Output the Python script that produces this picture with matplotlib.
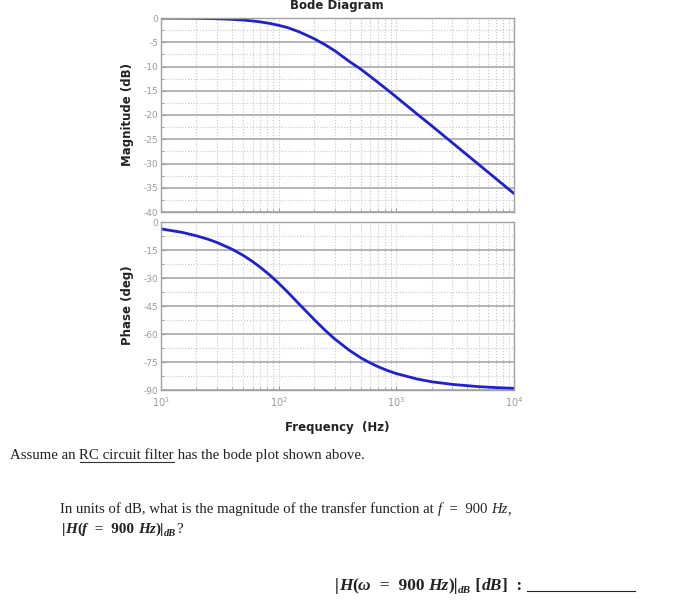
import numpy as np
import matplotlib
matplotlib.use("Agg")
import matplotlib.pyplot as plt
from matplotlib.ticker import FixedLocator, NullFormatter, LogLocator

# Data
freq_hz = [10, 15, 20, 25, 30, 40, 50, 60, 70, 85, 100, 120, 150, 200, 250, 300, 400,
           500, 600, 700, 850, 1000, 1500, 2000, 3000, 5000, 7000, 10000]
magnitude_db = [-0.02, -0.04, -0.07, -0.11, -0.16, -0.28, -0.43, -0.61, -0.81, -1.14,
                -1.51, -2.0, -2.87, -4.26, -5.56, -6.76, -8.98, -10.57, -12.04, -13.30,
                -14.92, -16.30, -19.8, -22.24, -25.75, -30.18, -33.10, -36.20]
phase_deg = [-3.7, -5.5, -7.4, -9.2, -11.0, -14.5, -17.9, -21.2, -24.3, -28.7, -32.8,
             -37.7, -44.1, -52.2, -58.2, -62.7, -68.8, -72.8, -75.5, -77.5, -79.7,
             -81.2, -84.1, -85.6, -87.0, -88.2, -88.7, -89.1]
mag_ticks = [0, -5, -10, -15, -20, -25, -30, -35, -40]
phase_ticks = [0, -15, -30, -45, -60, -75, -90]
x_ticks = [10, 100, 1000, 10000]

W, H = 690, 606
fig = plt.figure(figsize=(W / 100, H / 100), dpi=100)

def fx(px):
    return px / W

def fy(py):
    return 1 - py / H

left, right = 161, 514
ax1 = fig.add_axes([fx(left), fy(212), fx(right - left), fy(18) - fy(212)])
ax2 = fig.add_axes([fx(left), fy(390), fx(right - left), fy(222) - fy(390)])

tick_col = "#9a9a9a"
line_col = "#2020d0"

def style(ax, yt, ylim, minor_step):
    ax.set_xscale("log")
    ax.set_xlim(10, 10000)
    ax.set_ylim(*ylim)
    ax.yaxis.set_major_locator(FixedLocator(yt))
    minors = [v + minor_step / 2 for v in yt[1:]]
    ax.yaxis.set_minor_locator(FixedLocator(minors))
    ax.xaxis.set_major_locator(FixedLocator(x_ticks))
    ax.xaxis.set_minor_locator(LogLocator(base=10, subs=np.arange(2, 10)))
    ax.xaxis.set_minor_formatter(NullFormatter())
    ax.grid(True, which="major", axis="y", color="#a8a8a8", lw=1.2, ls="-")
    ax.grid(True, which="minor", axis="y", color="#c8c8c8", lw=0.8, ls=":")
    ax.grid(True, which="both", axis="x", color="#c8c8c8", lw=0.8, ls=":")
    for s in ax.spines.values():
        s.set_color("#a0a0a0")
        s.set_linewidth(1.0)
    ax.tick_params(which="both", direction="in", colors=tick_col, labelsize=6.5,
                   length=3, pad=2)
    ax.tick_params(which="minor", length=2)
    ax.set_yticklabels([str(v) for v in yt], color=tick_col)

style(ax1, mag_ticks, (-40, 0), 5)
style(ax2, phase_ticks, (-90, 0), 15)
ax1.set_xticklabels([])
ax2.set_xticklabels([r"$10^{%d}$" % int(np.log10(v)) for v in x_ticks], color=tick_col)
ax2.tick_params(axis="x", pad=4, labelsize=7)

ax1.plot(freq_hz, magnitude_db, color=line_col, lw=2.0, solid_capstyle="round")
ax2.plot(freq_hz, phase_deg, color=line_col, lw=2.0, solid_capstyle="round")

lab = dict(fontsize=8.5, color="#222222", fontweight="bold", family="DejaVu Sans")
fig.text(fx(337), fy(6), "Bode Diagram", ha="center", va="center", **lab)
fig.text(fx(127), fy(115), "Magnitude (dB)", ha="center", va="center", rotation=90, **lab)
fig.text(fx(127), fy(305), "Phase (deg)", ha="center", va="center", rotation=90, **lab)
fig.text(fx(337), fy(428), "Frequency  (Hz)", ha="center", va="center", **lab)

# Text below the chart
renderer = fig.canvas.get_renderer()

def runs(x_px, y_px, parts, size):
    x = x_px
    for txt, kw in parts:
        base = dict(fontsize=size, family="Liberation Serif", color="#222222")
        base.update(kw)
        dy = base.pop("dy", 0)
        underline = base.pop("underline", False)
        t = fig.text(fx(x), fy(y_px + dy), txt, ha="left", va="baseline", **base)
        bb = t.get_window_extent(renderer)
        if underline:
            fig.add_artist(plt.Line2D([fx(x + 1), fx(x + bb.width)],
                                      [fy(y_px + 2.5), fy(y_px + 2.5)],
                                      color="#333333", lw=0.8))
        x += bb.width
    return x

runs(10, 459, [("Assume an ", {}), ("RC circuit filter", {"underline": True}),
               (" has the bode plot shown above.", {})], 10.7)

runs(60, 513, [("In units of dB, what is the magnitude of the transfer function at ", {}),
               ("f", {"style": "italic"}), ("  =  900 ", {}), ("Hz", {"style": "italic"}),
               (",", {})], 10.6)

bi = {"style": "italic", "fontweight": "bold"}
bd = {"fontweight": "bold"}
runs(62, 533, [("|", bd), ("H", bi), ("(", bd), ("f", bi), ("  =  900 ", bd), ("Hz", bi),
               (")|", bd), ("dB", dict(bi, fontsize=7.5, dy=3)), ("?", {})], 11)

runs(335, 590, [("|", bd), ("H", bi), ("(", bd), ("ω", bi), ("  =  900 ", bd),
                ("Hz", bi), (")|", bd), ("dB", dict(bi, fontsize=8, dy=3)),
                (" [", bd), ("dB", bi), ("]  :", bd)], 12.5)
fig.add_artist(plt.Line2D([fx(527), fx(635)], [fy(591), fy(591)],
                          color="#222222", lw=0.8))

fig.savefig("out.png", dpi=100)
